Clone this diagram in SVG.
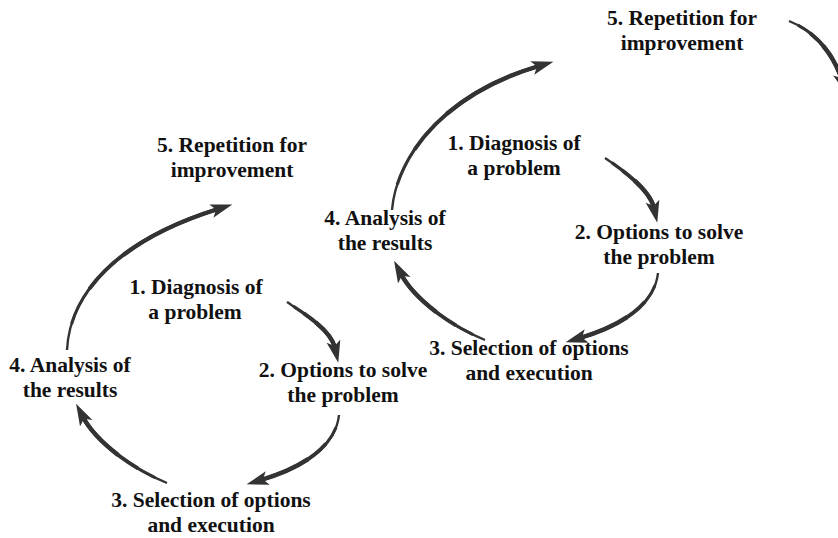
<svg xmlns="http://www.w3.org/2000/svg" xmlns:xlink="http://www.w3.org/1999/xlink" width="838" height="538" viewBox="0 0 838 538">
  <style>
    .lbl { font-family: "Liberation Serif", "Times New Roman", serif; font-weight: bold; font-size: 21.5px; fill: #111; text-anchor: middle; }
    .arc { fill: none; stroke: #333; stroke-linecap: butt; }
    .w1 { stroke-width: 2.4; }
    .w2 { stroke-width: 3.1; stroke-dasharray: 0 12 100; }
    .w3 { stroke-width: 3.8; stroke-dasharray: 0 30 100; }
    .w4 { stroke-width: 4.4; stroke-dasharray: 0 52 100; marker-end: url(#head); }
  </style>
  <defs>
    <marker id="head" markerUnits="userSpaceOnUse" markerWidth="24" markerHeight="16" viewBox="0 -8 24 16" refX="7" refY="0" orient="auto">
      <path d="M22,0 L0,-7 L5,0 L0,7 Z" fill="#333"/>
    </marker>
    <!-- centerlines of the curved arrows (tapered by stacking strokes) -->
    <path id="c-l45" pathLength="100" d="M67,350 C70,290 122,239 218,209"/>
    <path id="c-l12" pathLength="100" d="M287,302 C305,314 331,330 335,348"/>
    <path id="c-l23" pathLength="100" d="M339,415 C336,445 305,467 261,480"/>
    <path id="c-l34" pathLength="100" d="M167,483 C130,468 95,440 83,417"/>
    <path id="c-r45" pathLength="100" d="M392,210 C396,160 440,95 539,66"/>
    <path id="c-r12" pathLength="100" d="M605,158 C623,170 650,190 654,208"/>
    <path id="c-r23" pathLength="100" d="M658,273 C655,303 624,325 580,338"/>
    <path id="c-r34" pathLength="100" d="M485,340 C448,325 413,297 401,274"/>
    <path id="c-r5x" pathLength="100" d="M789,21 C812,30 832,50 842,80"/>
  </defs>

  <g id="connectors">
    <g id="l45"><use href="#c-l45" class="arc w1"/><use href="#c-l45" class="arc w2"/><use href="#c-l45" class="arc w3"/><use href="#c-l45" class="arc w4"/></g>
    <g id="l12"><use href="#c-l12" class="arc w1"/><use href="#c-l12" class="arc w2"/><use href="#c-l12" class="arc w3"/><use href="#c-l12" class="arc w4"/></g>
    <g id="l23"><use href="#c-l23" class="arc w1"/><use href="#c-l23" class="arc w2"/><use href="#c-l23" class="arc w3"/><use href="#c-l23" class="arc w4"/></g>
    <g id="l34"><use href="#c-l34" class="arc w1"/><use href="#c-l34" class="arc w2"/><use href="#c-l34" class="arc w3"/><use href="#c-l34" class="arc w4"/></g>
    <g id="r45"><use href="#c-r45" class="arc w1"/><use href="#c-r45" class="arc w2"/><use href="#c-r45" class="arc w3"/><use href="#c-r45" class="arc w4"/></g>
    <g id="r12"><use href="#c-r12" class="arc w1"/><use href="#c-r12" class="arc w2"/><use href="#c-r12" class="arc w3"/><use href="#c-r12" class="arc w4"/></g>
    <g id="r23"><use href="#c-r23" class="arc w1"/><use href="#c-r23" class="arc w2"/><use href="#c-r23" class="arc w3"/><use href="#c-r23" class="arc w4"/></g>
    <g id="r34"><use href="#c-r34" class="arc w1"/><use href="#c-r34" class="arc w2"/><use href="#c-r34" class="arc w3"/><use href="#c-r34" class="arc w4"/></g>
    <g id="r5x"><use href="#c-r5x" class="arc w1"/><use href="#c-r5x" class="arc w2"/><use href="#c-r5x" class="arc w3"/><use href="#c-r5x" class="arc w4"/></g>
  </g>

  <!-- first cycle -->
  <g id="l-step5"><text class="lbl" x="232" y="152">5. Repetition for<tspan x="232" dy="25">improvement</tspan></text></g>
  <g id="l-step1"><text class="lbl" x="196" y="294">1. Diagnosis of<tspan x="195" dy="25">a problem</tspan></text></g>
  <g id="l-step2"><text class="lbl" x="343" y="377">2. Options to solve<tspan x="343" dy="25">the problem</tspan></text></g>
  <g id="l-step3"><text class="lbl" x="211" y="507">3. Selection of options<tspan x="211" dy="25">and execution</tspan></text></g>
  <g id="l-step4"><text class="lbl" x="70" y="372">4. Analysis of<tspan x="70" dy="25">the results</tspan></text></g>

  <!-- second cycle -->
  <g id="r-step5"><text class="lbl" x="682" y="25">5. Repetition for<tspan x="682" dy="25">improvement</tspan></text></g>
  <g id="r-step1"><text class="lbl" x="514" y="150">1. Diagnosis of<tspan x="514" dy="25">a problem</tspan></text></g>
  <g id="r-step2"><text class="lbl" x="659" y="239">2. Options to solve<tspan x="659" dy="25">the problem</tspan></text></g>
  <g id="r-step3"><text class="lbl" x="529" y="355">3. Selection of options<tspan x="529" dy="25">and execution</tspan></text></g>
  <g id="r-step4"><text class="lbl" x="385" y="225">4. Analysis of<tspan x="385" dy="25">the results</tspan></text></g>
</svg>
